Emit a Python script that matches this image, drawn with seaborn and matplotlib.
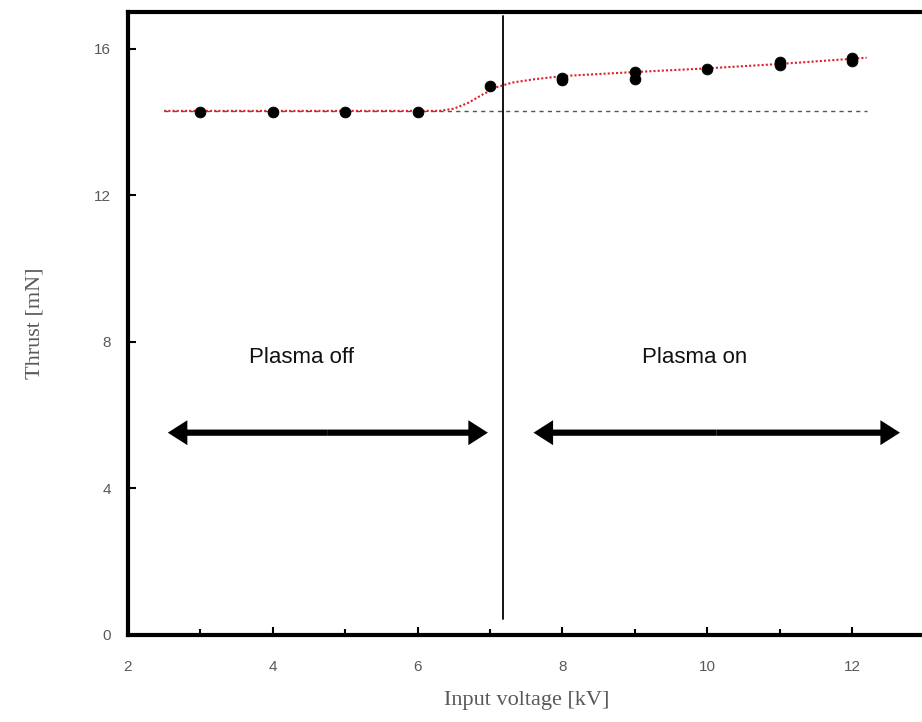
import numpy as np
import pandas as pd
import matplotlib
matplotlib.use("Agg")
import matplotlib.pyplot as plt
from matplotlib.ticker import MultipleLocator
import seaborn as sns

# measured points (kV, mN)
voltage = [3, 4, 5, 6, 7, 8, 8, 9, 9, 10, 11, 11, 12, 12]
thrust = [14.27, 14.27, 14.27, 14.27, 14.98, 15.21, 15.13, 15.35, 15.18,
          15.43, 15.62, 15.54, 15.73, 15.66]

# red dotted fit curve
fit_x = [2.5, 6.3, 6.5, 6.7, 6.9, 7.1, 7.3, 7.6, 8.0, 9.0, 10.0, 11.0, 12.2]
fit_y = [14.3, 14.3, 14.36, 14.52, 14.75, 14.95, 15.07, 15.16, 15.25,
         15.36, 15.46, 15.58, 15.75]

baseline = 14.3
baseline_x = [2.5, 12.2]
switch_v = 7.18

regions = ["Plasma off", "Plasma on"]
region_x = [4.39, 9.83]
arrow_ranges = [(2.55, 6.97), (7.6, 12.66)]
arrow_y = 5.52

sns.set_style("white")

fig = plt.figure(figsize=(9.22, 7.22), dpi=100)
ax = fig.add_axes([0.1388, 0.1205, 0.864, 0.863])

df_pts = pd.DataFrame({"v": voltage, "t": thrust})
df_fit = pd.DataFrame({"v": fit_x, "t": fit_y})

ax.plot(baseline_x, [baseline, baseline], ls=(0, (3, 3)), color="#555555", lw=1.0, zorder=1)
sns.lineplot(data=df_fit, x="v", y="t", ax=ax, color="#e0202a", lw=1.5,
             linestyle=(0, (1, 1)), zorder=2)
sns.scatterplot(data=df_pts, x="v", y="t", ax=ax, color="black", s=60,
                edgecolor="black", zorder=3)

ax.plot([switch_v, switch_v], [0.45, 16.9], color="black", lw=1.3, zorder=1)

for label, xc, (x0, x1) in zip(regions, region_x, arrow_ranges):
    ax.text(xc, 7.57, label, ha="center", va="center", fontsize=16,
            family="Liberation Sans", color="#111111")
    mid = (x0 + x1) / 2
    for end in (x0, x1):
        ax.arrow(mid, arrow_y, end - mid, 0, width=0.17, head_width=0.68,
                 head_length=0.27, length_includes_head=True,
                 color="black", lw=0, zorder=3)

ax.set_xlim(2, 13)
ax.set_ylim(0, 17)
ax.xaxis.set_major_locator(MultipleLocator(2))
ax.xaxis.set_minor_locator(MultipleLocator(1))
ax.set_yticks([0, 4, 8, 12, 16])

ax.tick_params(axis="both", which="both", direction="in", color="black", width=1.5,
               bottom=True, left=True)
ax.tick_params(axis="both", which="major", length=6, labelsize=11,
               labelcolor="#595959")
ax.tick_params(axis="x", which="major", pad=18)
ax.tick_params(axis="y", which="major", pad=12)
ax.tick_params(axis="x", which="minor", length=4)
for lab in ax.get_xticklabels() + ax.get_yticklabels():
    lab.set_family("Liberation Sans")

for side in ["left", "bottom", "top"]:
    ax.spines[side].set_linewidth(3)
    ax.spines[side].set_color("black")
ax.spines["right"].set_visible(False)

ax.set_xlabel("Input voltage [kV]", family="Liberation Serif", fontsize=16,
              color="#595959", labelpad=12)
ax.set_ylabel("Thrust [mN]", family="Liberation Serif", fontsize=16,
              color="#595959", labelpad=36)

fig.savefig("out.png", dpi=100)
